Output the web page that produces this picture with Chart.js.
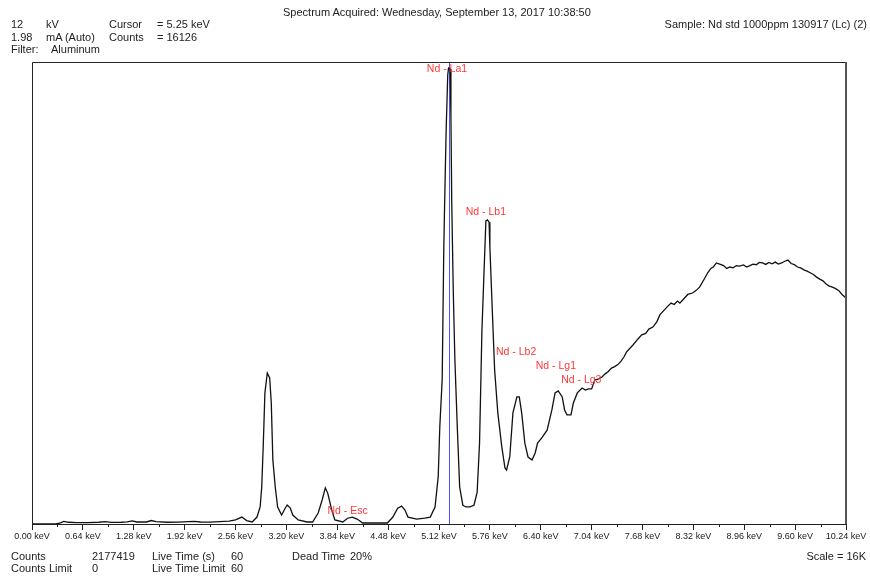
<!DOCTYPE html>
<html>
<head>
<meta charset="utf-8">
<script src="https://cdn.jsdelivr.net/npm/chart.js@4/dist/chart.umd.min.js"></script>
<style>
    body { margin: 0; background: #fff; }
    #wrap { position: relative; width: 870px; height: 577px; font-family: "Liberation Sans", Arial, sans-serif; font-size: 11px; color: #222; }
    #wrap span { position: absolute; white-space: nowrap; line-height: 13px; }
    canvas { position: absolute; left: 0; top: 0; }
</style>
</head>
<body>
<div id="wrap">
    <canvas id="spectrum" width="870" height="577"></canvas>
    <span style="left:283px;top:6px">Spectrum Acquired: Wednesday, September 13, 2017 10:38:50</span>
    <span style="left:11px;top:18px">12</span>
    <span style="left:46px;top:18px">kV</span>
    <span style="left:109px;top:18px">Cursor</span>
    <span style="left:157px;top:18px">= 5.25 keV</span>
    <span style="left:11px;top:31px">1.98</span>
    <span style="left:46px;top:31px">mA (Auto)</span>
    <span style="left:109px;top:31px">Counts</span>
    <span style="left:157px;top:31px">= 16126</span>
    <span style="left:11px;top:43px">Filter:</span>
    <span style="left:51px;top:43px">Aluminum</span>
    <span style="right:3px;top:18px">Sample: Nd std 1000ppm 130917 (Lc) (2)</span>
    <span style="left:11px;top:550px">Counts</span>
    <span style="left:92px;top:550px">2177419</span>
    <span style="left:152px;top:550px">Live Time (s)</span>
    <span style="left:231px;top:550px">60</span>
    <span style="left:292px;top:550px">Dead Time</span>
    <span style="left:350px;top:550px">20%</span>
    <span style="left:11px;top:562px">Counts Limit</span>
    <span style="left:92px;top:562px">0</span>
    <span style="left:152px;top:562px">Live Time Limit</span>
    <span style="left:231px;top:562px">60</span>
    <span style="right:4px;top:550px">Scale = 16K</span>
</div>
<script>
// Spectrum (keV, counts)
const energyKeV = [
    0.00, 0.30, 0.36, 0.40, 0.46, 0.56, 0.70, 0.84, 0.92, 1.00, 1.12, 1.20, 1.26, 1.32, 1.44, 1.50,
    1.56, 1.70, 1.84, 1.96, 2.04, 2.12, 2.24, 2.36, 2.48, 2.56, 2.64, 2.70, 2.77, 2.83, 2.87, 2.89,
    2.91, 2.93, 2.96, 2.99, 3.01, 3.03, 3.06, 3.09, 3.14, 3.18, 3.21, 3.25, 3.28, 3.35, 3.46, 3.53,
    3.60, 3.65, 3.69, 3.72, 3.77, 3.81, 3.91, 3.97, 4.03, 4.09, 4.16, 4.29, 4.40, 4.47, 4.54, 4.60,
    4.65, 4.69, 4.73, 4.84, 4.94, 5.01, 5.07, 5.11, 5.13, 5.16, 5.18, 5.19, 5.21, 5.23, 5.24, 5.26,
    5.27, 5.28, 5.30, 5.32, 5.35, 5.38, 5.42, 5.46, 5.51, 5.56, 5.60, 5.63, 5.66, 5.69, 5.71, 5.73,
    5.75, 5.76, 5.80, 5.82, 5.86, 5.91, 5.95, 5.97, 6.01, 6.05, 6.10, 6.13, 6.16, 6.20, 6.24, 6.29,
    6.33, 6.36, 6.42, 6.48, 6.54, 6.58, 6.62, 6.67, 6.70, 6.73, 6.78, 6.81, 6.86, 6.92, 6.96, 7.00,
    7.04, 7.08, 7.12, 7.17, 7.21, 7.25, 7.29, 7.33, 7.37, 7.41, 7.45, 7.48, 7.56, 7.62, 7.67, 7.72,
    7.76, 7.81, 7.86, 7.90, 7.95, 7.99, 8.04, 8.08, 8.12, 8.15, 8.20, 8.25, 8.31, 8.36, 8.40, 8.45,
    8.50, 8.54, 8.57, 8.61, 8.65, 8.70, 8.74, 8.78, 8.82, 8.86, 8.90, 8.95, 8.99, 9.03, 9.07, 9.11,
    9.15, 9.19, 9.23, 9.27, 9.31, 9.35, 9.39, 9.43, 9.47, 9.51, 9.55, 9.59, 9.63, 9.67, 9.71, 9.75,
    9.79, 9.83, 9.87, 9.91, 9.95, 9.99, 10.03, 10.07, 10.11, 10.15, 10.19, 10.24
];
const counts = [
    0, 0, 40, 90, 60, 50, 45, 60, 80, 55, 60, 75, 110, 70, 70, 120,
    80, 60, 65, 80, 90, 70, 65, 80, 100, 140, 240, 120, 70, 240, 590, 1280,
    2800, 4540, 5230, 5060, 4200, 2220, 1280, 590, 310, 520, 660, 550, 310, 140, 70, 70,
    380, 830, 1250, 1070, 490, 140, 70, 200, 240, 170, 35, 35, 40, 35, 240, 550,
    620, 490, 240, 170, 200, 240, 590, 1630, 3360, 5000, 9500, 10980, 13650, 15550, 15790, 15760,
    14100, 11200, 8000, 5680, 3360, 1280, 650, 590, 590, 650, 1100, 2800, 6700, 9000, 10500, 10530,
    10450, 9590, 6720, 5330, 3850, 2670, 1940, 1870, 2320, 3850, 4400, 4400, 3850, 2800, 2320, 2220,
    2460, 2800, 3010, 3250, 3950, 4540, 4610, 4400, 3950, 3780, 3780, 4190, 4540, 4710, 4640, 4680,
    4680, 4990, 5020, 5090, 5200, 5280, 5400, 5450, 5520, 5640, 5800, 5960, 6200, 6400, 6550, 6600,
    6750, 6820, 7000, 7250, 7400, 7520, 7650, 7600, 7720, 7650, 7800, 7950, 8000, 8100, 8210, 8450,
    8700, 8850, 8900, 9040, 9000, 8950, 8850, 8900, 8870, 8950, 8930, 8970, 8900, 8950, 9000, 8980,
    9060, 9040, 8990, 9060, 9010, 9070, 9000, 9040, 9100, 9140, 9020, 8980, 8900, 8870, 8800, 8760,
    8700, 8640, 8550, 8480, 8420, 8310, 8240, 8200, 8150, 8080, 7950, 7830
];

// Peak markers
const peakNames = ['Nd - La1', 'Nd - Lb1', 'Nd - Lb2', 'Nd - Lg1', 'Nd - Lg3', 'Nd - Esc'];
const peakEnergies = [5.22, 5.71, 6.09, 6.59, 6.91, 3.97];
const peakLabelCounts = [15760, 10800, 5960, 5470, 4990, 450];

const cursorKeV = 5.25;
const scaleMax = 16000;
const tickStep = 0.64;

const fontFamily = '"Liberation Sans", Arial, sans-serif';

// Box, minor ticks, cursor and peak names
const spectrumDecor = {
    id: 'spectrumDecor',
    beforeDatasetsDraw(chart) {
        const { ctx, chartArea, scales } = chart;
        const cx = Math.round(scales.x.getPixelForValue(cursorKeV)) + 0.5;
        ctx.save();
        ctx.strokeStyle = '#4f4fff';
        ctx.lineWidth = 1;
        ctx.beginPath();
        ctx.moveTo(cx, chartArea.top);
        ctx.lineTo(cx, chartArea.bottom);
        ctx.stroke();
        ctx.restore();
    },
    afterDraw(chart) {
        const { ctx, chartArea, scales } = chart;
        const { left, top, right, bottom } = chartArea;
        ctx.save();
        ctx.strokeStyle = '#222';
        ctx.lineWidth = 1;
        ctx.beginPath();
        ctx.moveTo(left + 0.5, bottom);
        ctx.lineTo(left + 0.5, top + 0.5);
        ctx.lineTo(right, top + 0.5);
        ctx.stroke();
        ctx.strokeStyle = '#555';
        ctx.lineWidth = 2;
        ctx.beginPath();
        ctx.moveTo(right, top);
        ctx.lineTo(right, bottom);
        ctx.stroke();

        // minor ticks halfway between labelled ticks
        ctx.strokeStyle = '#222';
        ctx.lineWidth = 1;
        for (let v = tickStep / 2; v < scales.x.max; v += tickStep) {
            const px = Math.round(scales.x.getPixelForValue(v)) + 0.5;
            ctx.beginPath();
            ctx.moveTo(px, bottom);
            ctx.lineTo(px, bottom + 3);
            ctx.stroke();
        }

        ctx.fillStyle = '#ff3636';
        ctx.font = '10.5px ' + fontFamily;
        ctx.textAlign = 'center';
        ctx.textBaseline = 'middle';
        peakNames.forEach((name, i) => {
            ctx.fillText(name, scales.x.getPixelForValue(peakEnergies[i]), scales.y.getPixelForValue(peakLabelCounts[i]));
        });
        ctx.restore();
    }
};

const spectrumChart = new Chart(document.getElementById('spectrum'), {
    type: 'line',
    data: {
        datasets: [{
            data: energyKeV.map((e, i) => ({ x: e, y: counts[i] })),
            borderColor: '#111',
            borderWidth: 1.3,
            pointRadius: 0,
            tension: 0,
            fill: false
        }]
    },
    options: {
        responsive: false,
        animation: false,
        layout: { padding: { left: 32, top: 62, right: 24, bottom: 0 } },
        plugins: {
            legend: { display: false },
            tooltip: { enabled: false }
        },
        scales: {
            x: {
                type: 'linear',
                min: 0,
                max: 10.24,
                afterFit: scale => { scale.height = 53; },
                border: { display: true, color: '#222', width: 1 },
                grid: { drawOnChartArea: false, drawTicks: true, tickLength: 6, color: '#222' },
                ticks: {
                    stepSize: tickStep,
                    autoSkip: false,
                    maxRotation: 0,
                    padding: 1,
                    color: '#222',
                    font: { family: fontFamily, size: 9 },
                    callback: v => v.toFixed(2) + ' keV'
                }
            },
            y: {
                display: false,
                min: 0,
                max: scaleMax
            }
        }
    },
    plugins: [spectrumDecor]
});
</script>
</body>
</html>
